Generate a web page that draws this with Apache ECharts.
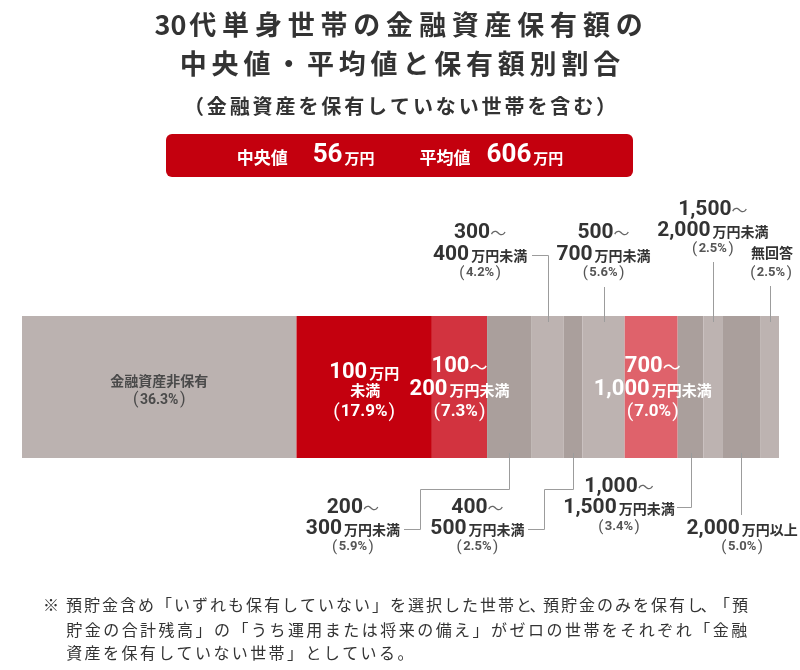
<!DOCTYPE html>
<html><head><meta charset="utf-8">
<script src="https://cdn.jsdelivr.net/npm/echarts@6/dist/echarts.min.js"></script>
<style>html,body{margin:0;padding:0;background:#fff}#c{width:800px;height:670px}</style>
</head><body><div id="c"></div>
<script>
// ---------- data ----------
const titleLines = ['30代単身世帯の金融資産保有額の', '中央値・平均値と保有額別割合'];
const subtitle = '（金融資産を保有していない世帯を含む）';
const medianLabel = '中央値';
const medianValue = 56;
const meanLabel = '平均値';
const meanValue = 606;
const unitLabel = '万円';
const categories = ['金融資産非保有','100万円未満','100～200万円未満','200～300万円未満','300～400万円未満','400～500万円未満','500～700万円未満','700～1,000万円未満','1,000～1,500万円未満','1,500～2,000万円未満','2,000万円以上','無回答'];
const shares = [36.3, 17.9, 7.3, 5.9, 4.2, 2.5, 5.6, 7.0, 3.4, 2.5, 5.0, 2.5];
const labelLines = [
  ['金融資産非保有'],
  ['100万円','未満'],
  ['100～','200万円未満'],
  ['200～','300万円未満'],
  ['300～','400万円未満'],
  ['400～','500万円未満'],
  ['500～','700万円未満'],
  ['700～','1,000万円未満'],
  ['1,000～','1,500万円未満'],
  ['1,500～','2,000万円未満'],
  ['2,000万円以上'],
  ['無回答']
];
const footMark = '※';
const footLines = [
  '預貯金含め「いずれも保有していない」を選択した世帯と、預貯金のみを保有し、「預',
  '貯金の合計残高」の「うち運用または将来の備え」がゼロの世帯をそれぞれ「金融',
  '資産を保有していない世帯」としている。'
];

// ---------- styles ----------
const palette = ['#bbb2b0','#c4000e','#d2333f','#aa9f9c','#bdb3b1','#aa9f9c','#bdb3b1','#df626b','#aa9f9c','#bdb3b1','#aa9f9c','#bdb3b1'];
const CJK = '"Noto Sans CJK JP", sans-serif';
const NUM = 'Roboto, "Noto Sans CJK JP", sans-serif';
const GRID = {left: 22, right: 21, top: 316, height: 142};
const LINE_COLOR = '#9c9c9c';

const chart = echarts.init(document.getElementById('c'), null, {renderer: 'canvas'});
const total = Math.round(shares.reduce((a, b) => a + b, 0) * 10) / 10;

chart.setOption({
  animation: false,
  grid: {left: GRID.left, right: GRID.right, top: GRID.top, height: GRID.height},
  xAxis: {type: 'value', min: 0, max: total, show: false},
  yAxis: {type: 'category', data: ['all'], show: false},
  series: categories.map((name, i) => ({
    name, type: 'bar', stack: 'total', barWidth: '100%', silent: true,
    data: [shares[i]], itemStyle: {color: palette[i]}
  }))
});

// ---------- helpers ----------
function tok(s, t) { return '{' + s + '|' + t + '}'; }
function fmtLine(line, pre) {
  const parts = line.match(/[0-9,]+|～|[^0-9,～]+/g);
  return parts.map(p => /^[0-9,]+$/.test(p) ? tok(pre + 'n', p) : (p === '～' ? tok(pre + 't', p) : tok(pre + 'u', p))).join('');
}
function pctLine(v, pre) {
  return tok(pre + 'pl', '(') + tok(pre + 'pv', v.toFixed(1) + '%') + tok(pre + 'pr', ')');
}
function labelRich(pre, c) {
  return {
    [pre + 'n']: {fontFamily: NUM, fontSize: c.n, fontWeight: 'bold', fill: c.col, lineHeight: c.n, verticalAlign: 'bottom'},
    [pre + 't']: {fontFamily: CJK, fontSize: c.t, fill: c.tcol, lineHeight: c.n, verticalAlign: 'middle'},
    [pre + 'u']: {fontFamily: CJK, fontSize: c.u, fontWeight: 'bold', fill: c.col, lineHeight: c.u + 2, verticalAlign: 'bottom', padding: [0, 0, c.ub || 0, c.upad || 0]},
    [pre + 'pv']: {fontFamily: NUM, fontSize: c.p, fontWeight: 'bold', fill: c.pcol},
    [pre + 'pl']: {fontFamily: NUM, fontSize: c.p + 2, fill: c.pcol, padding: [0, c.pp, 0, 0]},
    [pre + 'pr']: {fontFamily: NUM, fontSize: c.p + 2, fill: c.pcol, padding: [0, 0, 0, c.pp]}
  };
}
const rich = Object.assign({},
  labelRich('o', {n: 21, t: 16, u: 14, p: 13, col: '#333', tcol: '#666', pcol: '#555', pp: 1.5, upad: 2, ub: 3}),
  labelRich('w', {n: 22, t: 18, u: 15, p: 17, col: '#fff', tcol: '#fff', pcol: '#fff', pp: 1, upad: 2, ub: 3}),
  labelRich('d', {n: 14, t: 14, u: 14, p: 14, col: '#4a4a4a', tcol: '#4a4a4a', pcol: '#4a4a4a', pp: 1.5})
);

function spaced(str, cell, digitCell, style, halfSet) {
  const r = {};
  const base = Object.assign({align: 'center'}, style);
  r.c = Object.assign({}, base, {width: cell});
  r.d = Object.assign({}, base, {width: digitCell});
  r.h = Object.assign({}, base, {width: cell / 2, align: 'left'});
  const text = str.split('').map(ch => {
    if (/[0-9]/.test(ch)) return tok('d', ch);
    if (halfSet && halfSet.indexOf(ch) >= 0) return tok('h', ch);
    return tok('c', ch);
  }).join('');
  return {text, rich: r};
}
function textEl(x, y, text, r, align) {
  return {type: 'text', x, y, z: 20, silent: true,
    style: {text, rich: r, align: align || 'center', verticalAlign: 'middle', fontFamily: CJK}};
}
function poly(points) {
  return {type: 'polyline', z: 10, silent: true, shape: {points},
    style: {stroke: LINE_COLOR, lineWidth: 1, fill: 'none'}};
}

// ---------- label layout (positions) ----------
const barTop = GRID.top, barBot = GRID.top + GRID.height;
const layout = [
  {pre: 'd', dx: 0, ys: [380, 400]},
  {pre: 'w', dx: 0, ys: [373, 392, 412]},
  {pre: 'w', dx: 0, ys: [367, 390, 412]},
  {pre: 'o', dx: -156.5, ys: [508, 529, 547], lead: 'step'},
  {pre: 'o', dx: -67.5, ys: [233, 255, 273], lead: 'hookUp', hy: 255, he: 52},
  {pre: 'o', dx: -95.5, ys: [508, 529, 547], lead: 'step'},
  {pre: 'o', dx: 0, ys: [233, 255, 273], lead: 'up', to: 287},
  {pre: 'w', dx: 1.5, ys: [367, 390, 412]},
  {pre: 'o', dx: -71.5, ys: [487, 508, 527], lead: 'hookDown', hy: 507, he: 58},
  {pre: 'o', dx: 0, ys: [210, 231, 249], lead: 'up', to: 262},
  {pre: 'o', dx: 1, ys: [529, 547], lead: 'down', to: 515},
  {pre: 'o', dx: 1.5, ys: [255, 273], lead: 'up', to: 286}
];

const graphics = [];

// titles
const t1 = spaced(titleLines[0], 32.8, 16, {fontFamily: CJK, fontSize: 27, fontWeight: 'bold', fill: '#333'});
const t2 = spaced(titleLines[1], 31.8, 16, {fontFamily: CJK, fontSize: 27, fontWeight: 'bold', fill: '#333'});
const t3 = spaced(subtitle, 22.9, 12, {fontFamily: CJK, fontSize: 20, fontWeight: 'bold', fill: '#333'});
graphics.push(textEl(400, 25, t1.text, t1.rich));
graphics.push(textEl(400, 64, t2.text, t2.rich));
graphics.push(textEl(400, 106, t3.text, t3.rich));

// summary box
graphics.push({type: 'rect', z: 5, silent: true, shape: {x: 166, y: 134, width: 467, height: 43, r: 6}, style: {fill: '#c4000e'}});
const boxRich = {
  k: {fontFamily: CJK, fontSize: 17, fontWeight: 'bold', fill: '#fff', lineHeight: 26, verticalAlign: 'bottom', padding: [0, 0, 3, 0]},
  v: {fontFamily: NUM, fontSize: 26, fontWeight: 'bold', fill: '#fff', lineHeight: 26, verticalAlign: 'bottom'},
  u: {fontFamily: CJK, fontSize: 15, fontWeight: 'bold', fill: '#fff', lineHeight: 26, verticalAlign: 'bottom', padding: [0, 0, 3, 2]},
  g1: {width: 25}, g2: {width: 45}, g3: {width: 16}
};
graphics.push(textEl(400, 156,
  tok('k', medianLabel) + tok('g1', ' ') + tok('v', medianValue) + tok('u', unitLabel) + tok('g2', ' ') +
  tok('k', meanLabel) + tok('g3', ' ') + tok('v', meanValue) + tok('u', unitLabel), boxRich));

// segment labels & leader lines
let cum = 0;
shares.forEach((v, i) => {
  const x0 = chart.convertToPixel({xAxisIndex: 0}, cum);
  cum += v;
  const x1 = chart.convertToPixel({xAxisIndex: 0}, cum);
  const cx = (x0 + x1) / 2;
  const L = layout[i];
  const lx = cx + L.dx;
  const lines = labelLines[i].map(s => fmtLine(s, L.pre)).concat([pctLine(v, L.pre)]);
  lines.forEach((s, k) => graphics.push(textEl(lx, L.ys[k], s, rich)));
  const px = Math.round(cx) + 0.5;
  if (L.lead === 'step') {
    const ex = Math.round(lx + 67) + 0.5;
    graphics.push(poly([[px, barBot - 5], [px, 489.5], [ex, 489.5], [ex, 529.5], [Math.round(lx + 51), 529.5]]));
  } else if (L.lead === 'hookUp') {
    graphics.push(poly([[px, barTop + 6], [px, L.hy + 0.5], [Math.round(lx + L.he), L.hy + 0.5]]));
  } else if (L.lead === 'hookDown') {
    graphics.push(poly([[px, barBot - 5], [px, L.hy + 0.5], [Math.round(lx + L.he), L.hy + 0.5]]));
  } else if (L.lead === 'up') {
    graphics.push(poly([[px, barTop + 6], [px, L.to]]));
  } else if (L.lead === 'down') {
    graphics.push(poly([[px, barBot - 5], [px, L.to]]));
  }
});

// footnote
const footStyle = {fontFamily: CJK, fontSize: 16, fill: '#333'};
const mark = textEl(51, 605, footMark, null, 'center');
mark.style.fontSize = 16;
mark.style.fill = '#333';
graphics.push(mark);
const fCells = [18, 18.47, 18.4];
const fYs = [605, 630, 653];
footLines.forEach((s, k) => {
  const f = spaced(s, fCells[k], fCells[k], footStyle, k === 0 ? ['、'] : null);
  graphics.push(textEl(65, fYs[k], f.text, f.rich, 'left'));
});

chart.setOption({graphic: graphics});
</script>
</body></html>
